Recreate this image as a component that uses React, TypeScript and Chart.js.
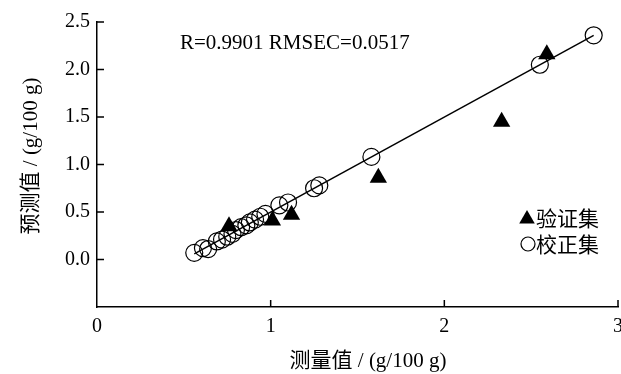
import React, { useEffect, useRef } from "react";
import { Chart, registerables } from "chart.js";

Chart.register(...registerables);

// Calibration set (open circles): measured vs. predicted, g/100 g
const calMeasured = [0.56, 0.61, 0.64, 0.69, 0.72, 0.75, 0.78, 0.8, 0.83, 0.86, 0.88, 0.91, 0.94, 0.97, 1.05, 1.1, 1.25, 1.28, 1.58, 2.55, 2.86];
const calPredicted = [0.07, 0.12, 0.11, 0.19, 0.21, 0.24, 0.27, 0.31, 0.34, 0.36, 0.39, 0.42, 0.45, 0.48, 0.57, 0.6, 0.75, 0.78, 1.08, 2.05, 2.36];

// Validation set (filled triangles)
const valMeasured = [0.76, 1.01, 1.12, 1.62, 2.33, 2.59];
const valPredicted = [0.35, 0.41, 0.47, 0.86, 1.45, 2.16];

// Fitted regression line end points
const fitX = [0.56, 2.86];
const fitY = [0.06, 2.36];

const xTicks = [0, 1, 2, 3];
const yTicks = [0, 0.5, 1, 1.5, 2, 2.5];

const statsText = "R=0.9901 RMSEC=0.0517";
const xTitle = "测量值 / (g/100 g)";
const yTitle = "预测值 / (g/100 g)";
const legendVal = "验证集";
const legendCal = "校正集";

const SERIF = '"Liberation Serif", "Times New Roman", "Noto Sans CJK SC", serif';
const MIXED = '"Liberation Serif", "Noto Sans CJK SC", serif';
const CJK = '"Noto Sans CJK SC", sans-serif';

const zip = (xs: number[], ys: number[]) => xs.map((x, i) => ({ x, y: ys[i] }));

const decorations = {
  id: "decorations",
  afterDraw(chart: any) {
    const { ctx, chartArea, scales } = chart;
    const xs = scales.x;
    const ys = scales.y;
    ctx.save();
    ctx.strokeStyle = "#000";
    ctx.lineWidth = 1.5;
    // inward tick marks
    ctx.beginPath();
    yTicks.forEach((v) => {
      const py = ys.getPixelForValue(v);
      ctx.moveTo(chartArea.left, py);
      ctx.lineTo(chartArea.left + 7, py);
    });
    xTicks.forEach((v) => {
      if (v === 0) return;
      const px = xs.getPixelForValue(v);
      ctx.moveTo(px, chartArea.bottom);
      ctx.lineTo(px, chartArea.bottom - 7);
    });
    ctx.stroke();

    ctx.fillStyle = "#000";
    ctx.textBaseline = "middle";

    // statistics
    ctx.font = `21px ${SERIF}`;
    ctx.textAlign = "left";
    ctx.fillText(statsText, 180, 43);

    // legend
    ctx.beginPath();
    const tx = 527, ty = 219, r = 9;
    ctx.moveTo(tx, ty - r);
    ctx.lineTo(tx + r * 0.866, ty + r * 0.5);
    ctx.lineTo(tx - r * 0.866, ty + r * 0.5);
    ctx.closePath();
    ctx.fill();
    ctx.beginPath();
    ctx.lineWidth = 1.2;
    ctx.arc(528, 244, 7, 0, Math.PI * 2);
    ctx.stroke();
    ctx.font = `21px ${CJK}`;
    ctx.fillText(legendVal, 536, 218);
    ctx.fillText(legendCal, 536, 244);

    // axis titles
    ctx.font = `21px ${MIXED}`;
    ctx.textAlign = "center";
    ctx.fillText(xTitle, 368, 361);
    ctx.translate(31, 156);
    ctx.rotate(-Math.PI / 2);
    ctx.fillText(yTitle, 0, 0);
    ctx.restore();
  },
};

export default function App() {
  const ref = useRef<HTMLCanvasElement | null>(null);

  useEffect(() => {
    if (!ref.current) return;
    const chart = new Chart(ref.current, {
      type: "scatter",
      data: {
        datasets: [
          {
            type: "line",
            label: "fit",
            data: zip(fitX, fitY),
            borderColor: "#000",
            borderWidth: 1.5,
            pointRadius: 0,
            fill: false,
            order: 0,
          },
          {
            label: legendCal,
            data: zip(calMeasured, calPredicted),
            pointStyle: "circle",
            pointRadius: 8.5,
            pointBorderWidth: 1.2,
            borderColor: "#000",
            backgroundColor: "rgba(0,0,0,0)",
            order: 1,
          },
          {
            label: legendVal,
            data: zip(valMeasured, valPredicted),
            pointStyle: "triangle",
            pointRadius: 10,
            pointBorderWidth: 0,
            borderColor: "#000",
            backgroundColor: "#000",
            order: 2,
          },
        ],
      } as any,
      options: {
        responsive: false,
        animation: false,
        layout: { padding: { left: 0, top: 22, right: 22, bottom: 0 } },
        plugins: { legend: { display: false }, tooltip: { enabled: false } },
        scales: {
          x: {
            type: "linear",
            min: 0,
            max: 3,
            grid: { display: false, drawTicks: false },
            border: { display: true, color: "#000", width: 1.5 },
            afterFit: (s: any) => {
              s.height = 67;
            },
            ticks: {
              stepSize: 1,
              padding: 8,
              color: "#000",
              font: { family: SERIF, size: 20 },
              callback: (v: any) => String(v),
            },
          },
          y: {
            type: "linear",
            min: -0.5,
            max: 2.5,
            grid: { display: false, drawTicks: false },
            border: { display: true, color: "#000", width: 1.5 },
            afterFit: (s: any) => {
              s.width = 97;
            },
            ticks: {
              stepSize: 0.5,
              padding: 7,
              color: "#000",
              font: { family: SERIF, size: 20 },
              callback: (v: any) => (v < 0 ? "" : Number(v).toFixed(1)),
            },
          },
        },
      } as any,
      plugins: [decorations],
    });
    return () => chart.destroy();
  }, []);

  return (
    <div style={{ position: "fixed", left: 0, top: 0, width: 621, height: 374, overflow: "hidden", background: "#fff" }}>
      <canvas ref={ref} width={640} height={374} style={{ display: "block" }} />
    </div>
  );
}
